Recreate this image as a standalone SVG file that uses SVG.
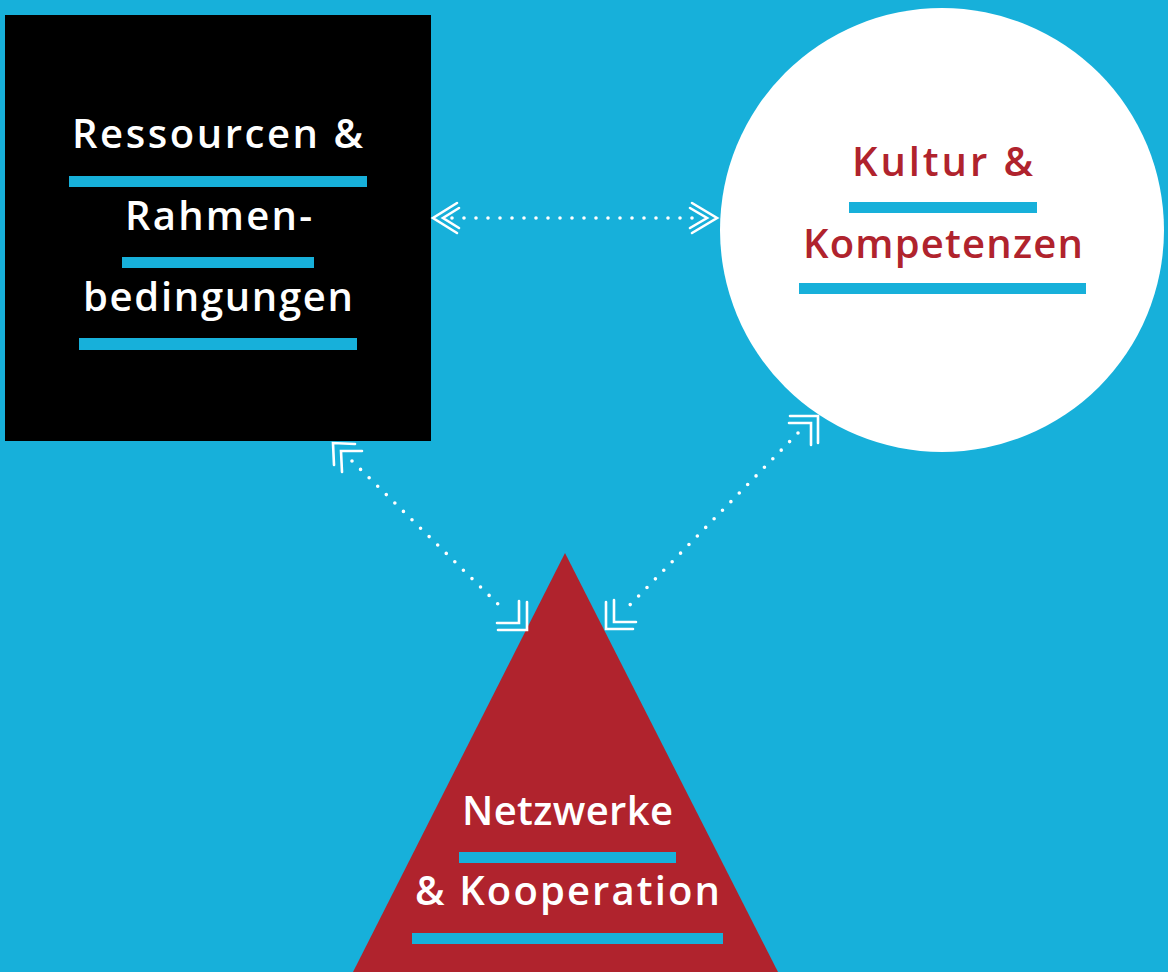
<svg xmlns="http://www.w3.org/2000/svg" width="1168" height="972" viewBox="0 0 1168 972">
  <style>
    .lbl { font-family: "Open Sans", "Liberation Sans", sans-serif; font-weight: 600; font-size: 40px; text-anchor: middle; }
    .w { fill: #ffffff; }
    .r { fill: #b0232d; }
    .bar { fill: #17b0da; }
    .dots { fill: none; stroke: #ffffff; stroke-width: 3.6; stroke-linecap: round; stroke-dasharray: 0 12; }
    .chev { fill: none; stroke: #ffffff; stroke-width: 2.6; stroke-linecap: round; stroke-linejoin: miter; }
  </style>
  <rect x="0" y="0" width="1168" height="972" fill="#17b0da"/>

  <g id="node-ressourcen">
    <rect x="5" y="15" width="426" height="426" fill="#000000"/>
    <text class="lbl w" x="217.5" y="148" textLength="291" lengthAdjust="spacing">Ressourcen &amp;</text>
    <rect class="bar" x="69" y="176" width="298" height="11"/>
    <text class="lbl w" x="218.5" y="230" textLength="187" lengthAdjust="spacing">Rahmen-</text>
    <rect class="bar" x="122" y="257" width="192" height="11"/>
    <text class="lbl w" x="218" y="311" textLength="270" lengthAdjust="spacing">bedingungen</text>
    <rect class="bar" x="79" y="338" width="278" height="12"/>
  </g>

  <g id="node-kultur">
    <circle cx="942" cy="230" r="222" fill="#ffffff"/>
    <text class="lbl r" x="942.5" y="176" textLength="181" lengthAdjust="spacing">Kultur &amp;</text>
    <rect class="bar" x="849" y="202" width="188" height="11"/>
    <text class="lbl r" x="943" y="258" textLength="280" lengthAdjust="spacing">Kompetenzen</text>
    <rect class="bar" x="799" y="283" width="287" height="11"/>
  </g>

  <g id="node-netzwerke">
    <polygon points="565,553 353,972 778,972" fill="#b0232d"/>
    <text class="lbl w" x="567.5" y="825" textLength="211" lengthAdjust="spacing">Netzwerke</text>
    <rect class="bar" x="459" y="852" width="217" height="11"/>
    <text class="lbl w" x="567.5" y="905" textLength="305" lengthAdjust="spacing">&amp; Kooperation</text>
    <rect class="bar" x="412" y="933" width="311" height="11"/>
  </g>

  <g id="connectors">
    <!-- Ressourcen <-> Kultur -->
    <path class="dots" d="M452,218 L697,218"/>
    <path class="chev" d="M457,203 L433,218 L457,233 M459,208 L443,218 L459,228"/>
    <path class="chev" d="M692,203 L717,218 L692,233 M690,208 L707,218 L690,228"/>
    <!-- Ressourcen <-> Netzwerke -->
    <path class="dots" d="M352,461 L504,610"/>
    <path class="chev" d="M355,444 L333,443 L334,465 M362,451 L341,451 L342,472"/>
    <path class="chev" d="M498,630 L527,630 L527,602 M497,623 L519,623 L519,601"/>
    <!-- Kultur <-> Netzwerke -->
    <path class="dots" d="M798,433 L623,612"/>
    <path class="chev" d="M790,416 L818,416 L818,443 M789,423 L811,423 L811,445"/>
    <path class="chev" d="M606,602 L606,629 L633,629 M614,600 L614,622 L636,622"/>
  </g>
</svg>
